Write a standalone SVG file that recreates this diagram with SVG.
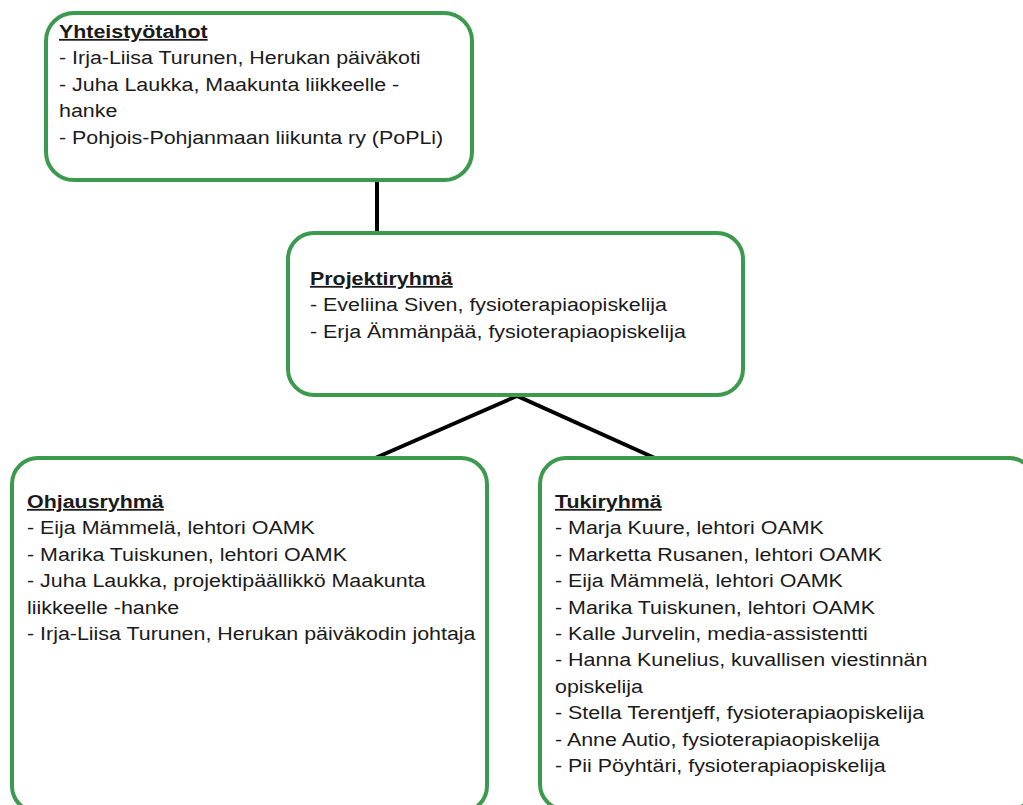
<svg xmlns="http://www.w3.org/2000/svg" width="1023" height="805" viewBox="0 0 1023 805">
<style>
.box{fill:#ffffff;stroke:#3c9a4e;stroke-width:4}
.t{font-family:"Liberation Sans",Arial,sans-serif;font-size:18px;fill:#1a1a1a}
.h{font-weight:bold;text-decoration:underline}
.c{stroke:#000;stroke-width:4;fill:none}
</style>
<rect width="1023" height="805" fill="#ffffff"/>
<g id="connectors">
<line class="c" x1="377" y1="180" x2="377" y2="233"/>
<polyline class="c" points="373,459 517,396 657,459"/>
</g>
<g id="yhteistyotahot">
<rect class="box" x="46" y="13" width="426" height="167" rx="28"/>
<g transform="translate(59,0) scale(1.19,1)" class="t">
<text class="h" x="0" y="38">Yhteistyötahot</text>
<text x="0" y="64.4">- Irja-Liisa Turunen, Herukan päiväkoti</text>
<text x="0" y="90.8">- Juha Laukka, Maakunta liikkeelle -</text>
<text x="0" y="117.2">hanke</text>
<text x="0" y="143.6">- Pohjois-Pohjanmaan liikunta ry (PoPLi)</text>
</g>
</g>
<g id="projektiryhma">
<rect class="box" x="288" y="233" width="455" height="162" rx="26"/>
<g transform="translate(310,0) scale(1.19,1)" class="t">
<text class="h" x="0" y="285">Projektiryhmä</text>
<text x="0" y="311.4">- Eveliina Siven, fysioterapiaopiskelija</text>
<text x="0" y="337.8">- Erja Ämmänpää, fysioterapiaopiskelija</text>
</g>
</g>
<g id="ohjausryhma">
<rect class="box" x="12" y="458" width="475" height="354" rx="26"/>
<g transform="translate(27,0) scale(1.19,1)" class="t">
<text class="h" x="0" y="508">Ohjausryhmä</text>
<text x="0" y="534.4">- Eija Mämmelä, lehtori OAMK</text>
<text x="0" y="560.8">- Marika Tuiskunen, lehtori OAMK</text>
<text x="0" y="587.2">- Juha Laukka, projektipäällikkö Maakunta</text>
<text x="0" y="613.6">liikkeelle -hanke</text>
<text x="0" y="640">- Irja-Liisa Turunen, Herukan päiväkodin johtaja</text>
</g>
</g>
<g id="tukiryhma">
<rect class="box" x="540" y="458" width="495" height="352" rx="26"/>
<g transform="translate(555,0) scale(1.19,1)" class="t">
<text class="h" x="0" y="508">Tukiryhmä</text>
<text x="0" y="534.4">- Marja Kuure, lehtori OAMK</text>
<text x="0" y="560.8">- Marketta Rusanen, lehtori OAMK</text>
<text x="0" y="587.2">- Eija Mämmelä, lehtori OAMK</text>
<text x="0" y="613.6">- Marika Tuiskunen, lehtori OAMK</text>
<text x="0" y="640">- Kalle Jurvelin, media-assistentti</text>
<text x="0" y="666.4">- Hanna Kunelius, kuvallisen viestinnän</text>
<text x="0" y="692.8">opiskelija</text>
<text x="0" y="719.2">- Stella Terentjeff, fysioterapiaopiskelija</text>
<text x="0" y="745.6">- Anne Autio, fysioterapiaopiskelija</text>
<text x="0" y="772">- Pii Pöyhtäri, fysioterapiaopiskelija</text>
</g>
</g>
</svg>
